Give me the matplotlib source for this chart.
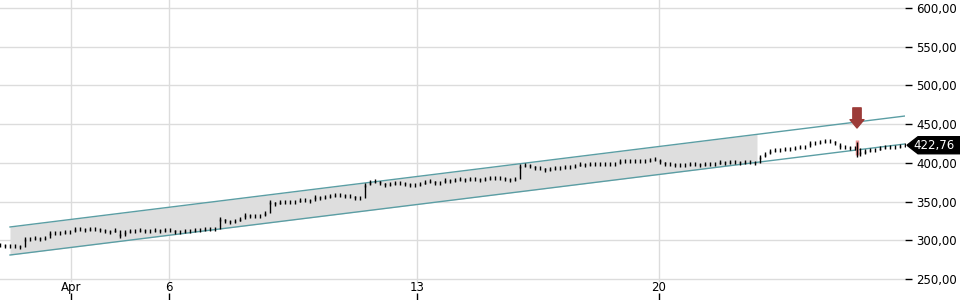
import matplotlib
matplotlib.use("Agg")
import matplotlib.pyplot as plt
import matplotlib.transforms as mtransforms
from matplotlib.patches import Polygon
from matplotlib.ticker import FuncFormatter
import numpy as np

# closing price per bar (one bar every ~5 px in the original)
closes = [294, 293, 293, 292, 291, 302, 302, 303, 302, 303,
          309, 310, 310, 311, 311, 314, 314, 313, 314, 314,
          313, 312, 311, 313, 305, 311, 312, 312, 313, 312,
          312, 313, 312, 313, 313, 311, 311, 312, 312, 313,
          313, 314, 314, 315, 328, 325, 324, 325, 327, 333,
          332, 332, 331, 335, 349, 347, 349, 350, 350, 350,
          352, 352, 351, 356, 355, 356, 357, 358, 358, 357,
          357, 355, 354, 371, 375, 376, 374, 372, 373, 374,
          374, 373, 372, 371, 373, 375, 376, 374, 374, 378,
          377, 378, 379, 378, 379, 379, 378, 379, 381, 380,
          381, 379, 378, 379, 396, 397, 396, 393, 393, 391,
          392, 393, 394, 395, 395, 396, 398, 397, 398, 398,
          399, 398, 399, 398, 403, 402, 402, 402, 403, 403,
          404, 405, 401, 399, 398, 397, 397, 397, 398, 398,
          397, 398, 398, 399, 401, 400, 401, 401, 400, 401,
          401, 400, 407, 412, 415, 416, 417, 418, 418, 419,
          420, 421, 426, 426, 427, 428, 428, 425, 421, 420,
          419, 419, 412, 415, 416, 417, 419, 420, 421, 421,
          422, 422.76]
last_price = 422.76

# signal bar
signal_idx = 171.4
signal_high = 429.5
signal_low = 408
arrow_top = 471
arrow_tip = 445

# regression channel
chan_start, chan_fill_end, chan_end = 2, 151.4, 181
upper_start, upper_end = 317.2, 460.5
lower_start, lower_end = 281.0, 424.4

tick_idx = [14.2, 33.8, 83.4, 131.8]
tick_labels = ["Apr", "6", "13", "20"]
y_ticks = [250, 300, 350, 400, 450, 500, 550, 600]

fig = plt.figure(figsize=(9.6, 3.0), dpi=100)
ax = fig.add_axes([0, 0, 905 / 960, 1])

x = np.arange(len(closes))
c = np.array(closes)

# channel
cx = np.array([chan_start, chan_end])
ax.plot(cx, [upper_start, upper_end], color="#5b9ea4", lw=1, zorder=3)
ax.plot(cx, [lower_start, lower_end], color="#5b9ea4", lw=1, zorder=3)
fx = np.array([chan_start, chan_fill_end])
up_f = np.interp(fx, cx, [upper_start, upper_end])
lo_f = np.interp(fx, cx, [lower_start, lower_end])
ax.fill_between(fx, lo_f, up_f, color="#dedede", lw=0, zorder=1)

# signal
ax.vlines(signal_idx, signal_low + 2, signal_high, color="#e89090", lw=2.5, zorder=4)
ax.annotate("", xy=(signal_idx, arrow_tip), xytext=(signal_idx, arrow_top),
            arrowprops=dict(arrowstyle="simple,head_length=0.6,head_width=1.0,tail_width=0.6",
                            color="#9c3b38", mutation_scale=10, shrinkA=0, shrinkB=0),
            zorder=6)

# bars
prev = np.concatenate([[c[0]], c[:-1]])
ax.vlines(x, prev, c, color="black", lw=1, zorder=5)
ax.plot(x, c, ls="none", marker="|", ms=3, mew=1, color="black", zorder=5)
ax.vlines(signal_idx, signal_low, signal_high - 2, color="black", lw=1, zorder=5)

ax.set_xlim(0, 181)
ax.set_ylim(222.9, 610.3)

for s in ax.spines.values():
    s.set_visible(False)

ax.yaxis.tick_right()
ax.set_yticks(y_ticks)
ax.yaxis.set_major_formatter(FuncFormatter(lambda v, p: f"{v:.2f}".replace(".", ",")))
ax.tick_params(axis="y", direction="out", length=5, width=1, pad=3, labelsize=8.5, colors="black")
for v in y_ticks:
    ax.axhline(v, color="#dcdcdc", lw=1, zorder=0)

ax.set_xticks(tick_idx)
ax.set_xticklabels(tick_labels)
ax.tick_params(axis="x", direction="in", length=5, width=1, pad=-14, labelsize=8.5)
for t in tick_idx:
    ax.axvline(t, ymin=0.065, color="#dcdcdc", lw=1, zorder=0)

# last price tag
tr = mtransforms.blended_transform_factory(fig.transFigure, ax.transData)
h = 11
tag = Polygon([(907 / 960, last_price), (918 / 960, last_price + h), (1, last_price + h),
               (1, last_price - h), (918 / 960, last_price - h)],
              closed=True, transform=tr, color="black", clip_on=False, zorder=7)
fig.patches.append(tag)
fig.text(934 / 960, last_price, f"{last_price:.2f}".replace(".", ","), transform=tr,
         color="white", fontsize=8.5, ha="center", va="center", zorder=8)

fig.savefig("out.png", dpi=100)
